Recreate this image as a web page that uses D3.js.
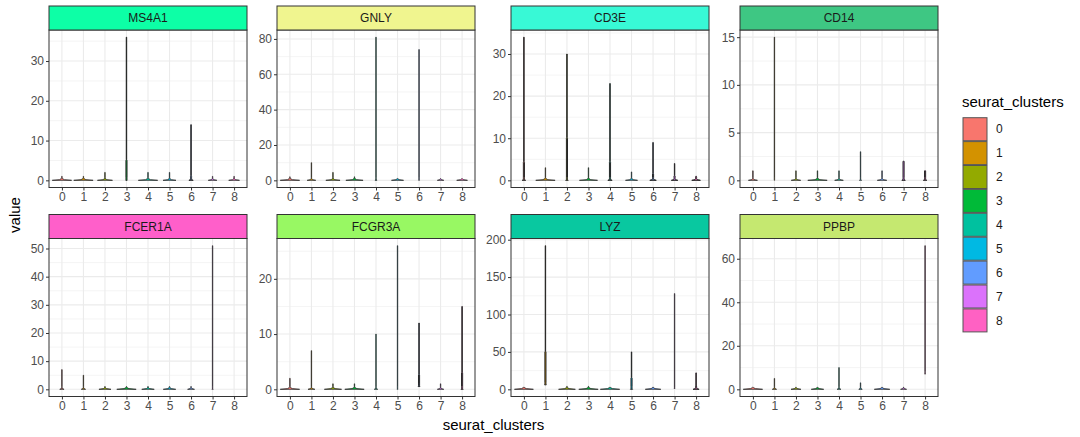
<!DOCTYPE html>
<html>
<head>
<meta charset="utf-8">
<script src="https://cdn.jsdelivr.net/npm/d3@7"></script>
<style>
  body { margin: 0; background: #fff; }
  text { font-family: "Liberation Sans", Arial, sans-serif; }
</style>
</head>
<body>
<div id="chart"></div>
<script>
const genes = ["MS4A1", "GNLY", "CD3E", "CD14", "FCER1A", "FCGR3A", "LYZ", "PPBP"]
const clusters = ["0", "1", "2", "3", "4", "5", "6", "7", "8"]
const clusterColors = ["#F8766D", "#D39200", "#93AA00", "#00BA38", "#00C19F", "#00B9E3", "#619CFF", "#DB72FB", "#FF61C3"]
const stripColors = ["#0DFFA6", "#F0F58F", "#38F9D6", "#3EC783", "#FF5FCA", "#98F863", "#09C8A0", "#C5E870"]
const tickSteps = [10, 20, 10, 5, 10, 10, 50, 20]

// one row per gene, one value per cluster
const maxValues = [
  [1, 1, 2, 36, 2, 2, 14, 1, 1],
  [2, 10, 4.5, 2, 81, 1, 74, 1, 1],
  [34, 3, 30, 3, 23, 2, 9, 4, 1],
  [1, 15, 1, 1, 1, 3, 1, 2, 1],
  [7, 5, 1, 1, 1, 1, 1, 51, 0],
  [2, 7, 1, 1, 10, 26, 12, 1, 15],
  [3, 192, 4, 4, 3, 50, 3, 128, 22],
  [1, 5, 1, 1, 10, 3, 1, 1, 66],
]
const minValues = [
  [0, 0, 0, 0, 0, 0, 0, 0, 0],
  [0, 0, 0, 0, 0, 0, 0, 0, 0],
  [0, 0, 0, 0, 0, 0, 0, 0, 0],
  [0, 0, 0, 0, 0, 0, 0, 0, 0],
  [0, 0, 0, 0, 0, 0, 0, 0, 0],
  [0, 0, 0, 0, 0, 0, 0.5, 0, 0],
  [0, 6, 0, 0, 0, 0, 0, 1, 0],
  [0, 0, 0, 0, 0, 0, 0, 0, 7],
]
// where the dense (thicker) part of a violin ends, 0 = none
const thickTo = [
  [0, 0, 0, 5, 0, 0, 1, 0, 0],
  [0, 0, 0, 0, 0, 0, 0, 0, 0],
  [4.3, 0, 10, 0, 4.3, 0, 1.5, 1, 0.8],
  [0, 0, 0, 0, 0, 0, 0, 2, 1],
  [0, 0, 0, 0, 0, 0, 0, 0, 0],
  [0, 0, 0, 0, 0, 0, 2.6, 0, 3],
  [0, 50, 0, 0, 0, 15, 0, 0, 3],
  [0, 0, 0, 0, 0, 0, 0, 0, 0],
]
// half width at the base, as a fraction of cluster spacing
const baseWidths = [
  [0.45, 0.45, 0.35, 0.03, 0.45, 0.3, 0.1, 0.2, 0.25],
  [0.45, 0.2, 0.33, 0.4, 0.05, 0.28, 0.02, 0.15, 0.25],
  [0.08, 0.45, 0.06, 0.42, 0.1, 0.28, 0.15, 0.15, 0.2],
  [0.21, 0.01, 0.22, 0.45, 0.2, 0.05, 0.22, 0.08, 0.08],
  [0.1, 0.1, 0.28, 0.45, 0.29, 0.29, 0.16, 0.03, 0],
  [0.45, 0.16, 0.4, 0.45, 0.08, 0.02, 0.04, 0.15, 0.05],
  [0.44, 0.04, 0.39, 0.45, 0.45, 0.05, 0.36, 0.02, 0.14],
  [0.45, 0.1, 0.23, 0.29, 0.09, 0.08, 0.36, 0.14, 0.02],
]

const width = 1080
const height = 437
const colLeft = [49, 277, 511, 740]
const panelW = 198
const stripTop = [6, 214.5]
const stripH = 24
const panelBottom = [187.5, 396.5]

const svg = d3
  .select("#chart")
  .append("svg")
  .attr("width", width)
  .attr("height", height)

svg.append("rect").attr("width", width).attr("height", height).attr("fill", "#fff")

const violinArea = d3.area()
  .y(d => d.y)
  .x0(d => d.cx - d.w)
  .x1(d => d.cx + d.w)

genes.forEach((gene, i) => {
  const col = i % 4
  const row = Math.floor(i / 4)
  const left = colLeft[col]
  const top = stripTop[row] + stripH
  const bottom = panelBottom[row]

  const x = d3.scalePoint().domain(clusters).range([left, left + panelW]).padding(0.6)
  const yMax = d3.max(maxValues[i])
  const yMin = d3.min(minValues[i])
  const span = yMax - yMin
  const y = d3.scaleLinear()
    .domain([yMin - span * 0.05, yMax + span * 0.05])
    .range([bottom, top])

  const step = tickSteps[i]
  const majors = d3.range(0, y.domain()[1], step)
  const minors = d3.range(step / 2, y.domain()[1], step)

  const g = svg.append("g").attr("class", "panel")

  g.append("rect")
    .attr("x", left).attr("y", top)
    .attr("width", panelW).attr("height", bottom - top)
    .attr("fill", "#fff")

  // grid
  g.selectAll(".minor")
    .data(minors)
    .enter()
    .append("line")
    .attr("x1", left).attr("x2", left + panelW)
    .attr("y1", d => y(d)).attr("y2", d => y(d))
    .attr("stroke", "#ebebeb").attr("stroke-width", 0.55)
  g.selectAll(".major")
    .data(majors)
    .enter()
    .append("line")
    .attr("x1", left).attr("x2", left + panelW)
    .attr("y1", d => y(d)).attr("y2", d => y(d))
    .attr("stroke", "#ebebeb").attr("stroke-width", 1.1)
  g.selectAll(".vgrid")
    .data(clusters)
    .enter()
    .append("line")
    .attr("x1", d => x(d)).attr("x2", d => x(d))
    .attr("y1", top).attr("y2", bottom)
    .attr("stroke", "#ebebeb").attr("stroke-width", 1.1)

  // violins
  const lw = 0.2
  const tw = 0.55
  clusters.forEach((c, j) => {
    const vmax = maxValues[i][j]
    if (vmax <= 0) return
    const cx = x(c)
    const y0 = y(minValues[i][j])
    const yT = y(vmax)
    const wb = Math.max(lw, baseWidths[i][j] * x.step())
    const thick = thickTo[i][j]
    const pts = [
      [y0, wb],
      [y0 - 0.7, Math.max(thick ? tw : lw, wb * 0.25)],
      [y0 - 1.6, Math.max(thick ? tw : lw, wb * 0.08)],
      [y0 - 2.6, thick ? tw : lw],
    ]
    if (thick) {
      pts.push([y(thick), tw])
      pts.push([y(thick) - 0.6, lw])
    }
    pts.push([yT, lw])
    const data = pts.map(p => ({y: Math.max(p[0], yT), w: p[1], cx: cx}))
    g.append("path")
      .attr("d", violinArea(data))
      .attr("fill", clusterColors[j])
      .attr("stroke", "#262626")
      .attr("stroke-width", thick ? 1 : 0.75)
      .attr("stroke-linejoin", "round")
  })

  // border
  g.append("rect")
    .attr("x", left).attr("y", top)
    .attr("width", panelW).attr("height", bottom - top)
    .attr("fill", "none").attr("stroke", "#333").attr("stroke-width", 1)

  // strip
  g.append("rect")
    .attr("x", left).attr("y", stripTop[row])
    .attr("width", panelW).attr("height", stripH)
    .attr("fill", stripColors[i]).attr("stroke", "#333").attr("stroke-width", 1)
  g.append("text")
    .attr("x", left + panelW / 2)
    .attr("y", stripTop[row] + stripH / 2)
    .attr("dy", "0.35em")
    .attr("text-anchor", "middle")
    .attr("font-size", 12)
    .attr("fill", "#1a1a1a")
    .text(gene)

  // axes
  const yAxis = g.append("g")
    .attr("transform", `translate(${left},0)`)
    .call(d3.axisLeft(y).tickValues(majors).tickSize(3).tickPadding(2))
  const xAxis = g.append("g")
    .attr("transform", `translate(0,${bottom})`)
    .call(d3.axisBottom(x).tickSize(3).tickPadding(2))
  ;[yAxis, xAxis].forEach(ax => {
    ax.select(".domain").remove()
    ax.selectAll(".tick line").attr("stroke", "#333")
    ax.selectAll(".tick text")
      .attr("fill", "#4d4d4d")
      .attr("font-size", 12)
      .attr("font-family", "Liberation Sans, Arial, sans-serif")
  })
})

// axis titles
svg.append("text")
  .attr("transform", "translate(20,215) rotate(-90)")
  .attr("text-anchor", "middle")
  .attr("font-size", 15)
  .attr("fill", "#000")
  .text("value")
svg.append("text")
  .attr("x", 493.5)
  .attr("y", 430)
  .attr("text-anchor", "middle")
  .attr("font-size", 15)
  .attr("fill", "#000")
  .text("seurat_clusters")

// legend
const legend = svg.append("g").attr("class", "legend")
legend.append("text")
  .attr("x", 962)
  .attr("y", 107)
  .attr("font-size", 15)
  .attr("fill", "#000")
  .text("seurat_clusters")
const keys = legend.selectAll(".key")
  .data(clusters)
  .enter()
  .append("g")
  .attr("transform", (d, i) => `translate(963,${117.7 + i * 23.9})`)
keys.append("rect")
  .attr("width", 24)
  .attr("height", 23)
  .attr("fill", (d, i) => clusterColors[i])
  .attr("stroke", "#555")
  .attr("stroke-width", 1)
keys.append("text")
  .attr("x", 33)
  .attr("y", 11.5)
  .attr("dy", "0.35em")
  .attr("font-size", 12)
  .attr("fill", "#1a1a1a")
  .text(d => d)
</script>
</body>
</html>
